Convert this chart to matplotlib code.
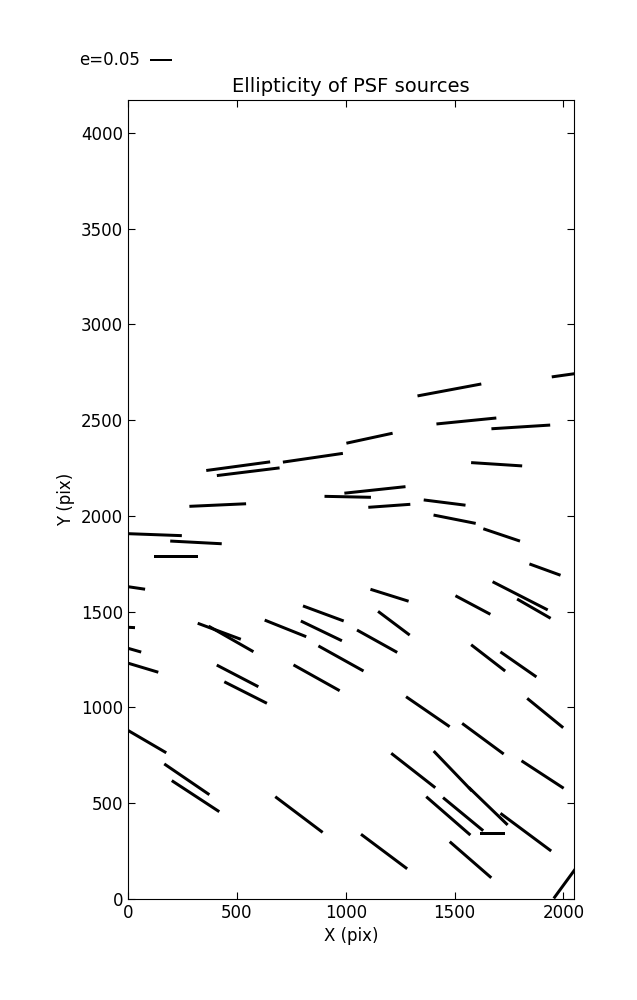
import numpy as np
import matplotlib
matplotlib.use("Agg")
import matplotlib.pyplot as plt

# source centres (pix), ellipticity and position angle on screen (deg)
xs = [1476, 2083, 1554, 1804, 1109, 849, 506, 552, 1693, 1134,
      1009, 1200, 1454, 412, 1500, 109, 312, 221, 1716, 1915,
      10, 1201, 1801, 1864, 1584, 897, 1221, 723, -37, 888,
      419, 473, 1144, 978, -6, 51, 866, 503, 540, 1654,
      1793, 1377, 1916, 80, 1630, 1310, 1492, 1654, 270, 310,
      1827, 1904, 785, 1471, 1539, 1674, 1176, 1573, 2037]
ys = [2658, 2748, 2496, 2465, 2406, 2304, 2260, 2231, 2270, 2136,
      2100, 2053, 2070, 2057, 1983, 1903, 1862, 1786, 1901, 1720,
      1629, 1586, 1583, 1516, 1535, 1491, 1440, 1413, 1421, 1400,
      1398, 1358, 1346, 1256, 1311, 1214, 1155, 1165, 1078, 1259,
      1225, 978, 971, 827, 837, 671, 668, 485, 625, 537,
      349, 650, 441, 434, 443, 343, 248, 205, 130]
ell = [0.151, 0.14, 0.140, 0.137, 0.110, 0.141, 0.150, 0.147, 0.119, 0.143,
       0.108, 0.098, 0.098, 0.132, 0.100, 0.14, 0.120, 0.101, 0.090, 0.077,
       0.07, 0.093, 0.144, 0.090, 0.092, 0.101, 0.092, 0.104, 0.07, 0.106,
       0.107, 0.120, 0.107, 0.120, 0.07, 0.093, 0.123, 0.109, 0.111, 0.100,
       0.102, 0.123, 0.108, 0.112, 0.120, 0.130, 0.129, 0.126, 0.127, 0.132,
       0.147, 0.117, 0.138, 0.136, 0.121, 0.056, 0.134, 0.128, 0.14]
pa = [10.6, 8.0, 5.7, 3.6, 12.2, 8.3, 7.7, 7.0, -3.7, 6.1,
      -1.2, 4.1, -7.2, 2.6, -11.2, -2.1, -3.0, 0.0, -18.6, -20.0,
      -8.4, -17.4, -27.1, -29.9, -28.0, -20.3, -36.9, -21.8, -3.0, -25.7,
      -20.4, -29.7, -29.1, -29.1, -16.0, -16.7, -29.2, -27.5, -26.8, -37.7,
      -34.8, -34.5, -39.2, -30.3, -36.4, -38.0, -46.2, -44.0, -34.3, -33.2,
      -36.6, -33.1, -37.0, -41.0, -39.5, 0.0, -36.8, -41.0, 53.8]

xs = np.array(xs, float)
ys = np.array(ys, float)
ell = np.array(ell)
th = np.radians(pa)
u = ell * np.cos(th)
v = ell * np.sin(th)

fig = plt.figure(figsize=(6.37, 10), dpi=100)
ax = fig.add_axes([0.201, 0.101, 0.700, 0.799])

q = ax.quiver(xs, ys, u, v, pivot='middle', headwidth=0, headlength=0,
              headaxislength=0, units='width', width=0.0067,
              scale_units='width', scale=1.037, color='k')
ax.quiverkey(q, 0.2355, 0.94, 0.05, 'e=0.05', labelpos='W',
             coordinates='figure', fontproperties={'size': 12})

ax.set_xlim(0, 2048)
ax.set_ylim(0, 4172)
ax.set_xticks(np.arange(0, 2001, 500))
ax.set_yticks(np.arange(0, 4001, 500))
ax.tick_params(direction='in', top=True, right=True, labelsize=12, length=5)
ax.set_xlabel('X (pix)', fontsize=12)
ax.set_ylabel('Y (pix)', fontsize=12)
ax.set_title('Ellipticity of PSF sources', fontsize=14)

fig.savefig('out.png', dpi=100, facecolor='white')
